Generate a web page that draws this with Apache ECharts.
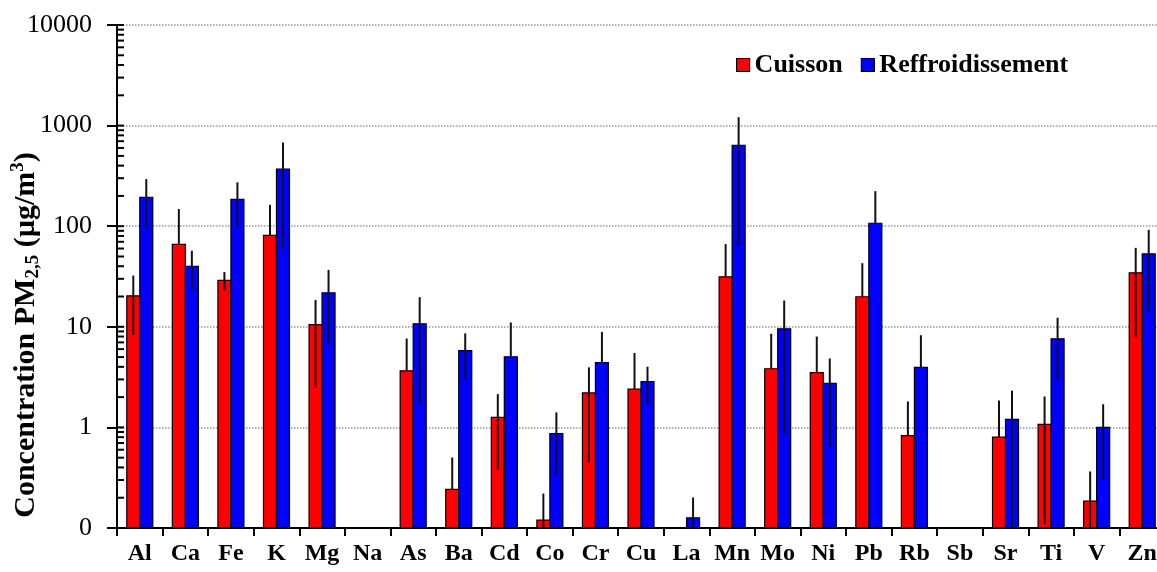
<!DOCTYPE html>
<html>
<head>
<meta charset="utf-8">
<script src="https://cdn.jsdelivr.net/npm/echarts@6/dist/echarts.min.js"></script>
<style>
  html, body { margin: 0; padding: 0; background: #fff; }
  #chart { width: 1157px; height: 572px; }
</style>
</head>
<body>
<div id="chart"></div>
<script>
const elements = ['Al', 'Ca', 'Fe', 'K', 'Mg', 'Na', 'As', 'Ba', 'Cd', 'Co', 'Cr', 'Cu', 'La', 'Mn', 'Mo', 'Ni', 'Pb', 'Rb', 'Sb', 'Sr', 'Ti', 'V', 'Zn'];
const cuisson = [20.3, 66, 29, 81, 10.5, null, 3.65, 0.242, 1.26, 0.12, 2.2, 2.4, null, 31.4, 3.83, 3.5, 19.9, 0.83, null, 0.8, 1.07, 0.185, 34.4];
const cuissonErr = [12, 82, 6, 82, 8, null, 4, 0.26, 0.88, 0.1, 1.75, 3.1, null, 35, 4.7, 4.5, 23, 0.98, null, 1.05, 0.96, 0.18, 26.5];
const refroid = [194, 40, 185, 369, 21.8, null, 10.7, 5.8, 5.03, 0.87, 4.4, 2.86, 0.126, 638, 9.55, 2.74, 107, 3.95, null, 1.2, 7.6, 1.0, 53];
const refroidErr = [100, 17, 88, 310, 15, null, 9, 2.8, 6, 0.54, 4.5, 1.15, 0.075, 575, 8.7, 2.1, 116, 4.3, null, 1.12, 4.7, 0.7, 39];
const yTickValues = [0.1, 1, 10, 100, 1000, 10000];

const serif = '"Liberation Serif", "Times New Roman", serif';
const barW = 13;

// decade ticks plus the 2..9 minor ticks drawn inside the axis
const insideTicks = [];
yTickValues.forEach((d, k) => {
  const steps = k < yTickValues.length - 1 ? 9 : 1;
  for (let m = 1; m <= steps; m++) insideTicks.push([0, +(d * m).toPrecision(3)]);
});

function rows(vals, errs) {
  return vals.map((v, i) => (v == null ? [i, null, null] : [i, v, errs[i]]));
}

// bars drawn from the bottom of the log axis (ECharts bars would start at 1)
function barRender(offset, color) {
  return function (params, api) {
    const v = api.value(1);
    if (v == null || isNaN(v)) return null;
    const p = api.coord([api.value(0), v]);
    const cs = params.coordSys;
    const bottom = cs.y + cs.height;
    const x = p[0] + offset - barW / 2;
    return {
      type: 'rect',
      shape: { x: x, y: p[1], width: barW, height: bottom - p[1] },
      style: { fill: color, stroke: '#000', lineWidth: 1.2 }
    };
  };
}

function errRender(offset) {
  return function (params, api) {
    const v = api.value(1);
    const e = api.value(2);
    if (v == null || isNaN(v) || isNaN(e)) return null;
    const i = api.value(0);
    const hi = api.coord([i, v + e]);
    const lo = api.coord([i, v - e > 0 ? v - e : v]);
    const x = hi[0] + offset;
    return {
      type: 'line',
      shape: { x1: x, y1: hi[1], x2: x, y2: lo[1] },
      style: { stroke: '#111', lineWidth: 2 }
    };
  };
}

const chart = echarts.init(document.getElementById('chart'));
chart.setOption({
  animation: false,
  backgroundColor: '#fff',
  grid: { left: 117, right: -8, top: 25, bottom: 44, outerBoundsMode: 'none' },
  legend: {
    data: ['Cuisson', 'Reffroidissement'],
    left: 731, top: 47,
    icon: 'rect', itemWidth: 13, itemHeight: 13, itemGap: 18,
    itemStyle: { borderColor: '#000', borderWidth: 1.2 },
    textStyle: { fontFamily: serif, fontWeight: 'bold', fontSize: 26, color: '#000' }
  },
  graphic: [{
    type: 'text',
    x: 26, y: 335,
    rotation: Math.PI / 2,
    style: {
      text: '{a|Concentration PM}{s|2,5}{a| (µg/m}{p|3}{a|)}',
      align: 'center', verticalAlign: 'middle',
      rich: {
        a: { fontFamily: serif, fontWeight: 'bold', fontSize: 30, fill: '#000', lineHeight: 34, verticalAlign: 'middle' },
        s: { fontFamily: serif, fontWeight: 'bold', fontSize: 19, fill: '#000', lineHeight: 34, verticalAlign: 'bottom' },
        p: { fontFamily: serif, fontWeight: 'bold', fontSize: 19, fill: '#000', lineHeight: 34, verticalAlign: 'top' }
      }
    }
  }],
  xAxis: {
    type: 'category',
    data: elements,
    boundaryGap: true,
    axisLine: { lineStyle: { color: '#000', width: 2 } },
    axisTick: { show: true, length: 8, interval: 0, lineStyle: { color: '#000', width: 2 } },
    axisLabel: { interval: 0, margin: 14, fontFamily: serif, fontWeight: 'bold', fontSize: 24, color: '#000' },
    splitLine: { show: false }
  },
  yAxis: {
    type: 'log',
    logBase: 10,
    min: 0.1,
    max: 10000,
    axisLine: { show: true, lineStyle: { color: '#000', width: 2 } },
    axisTick: { show: true, length: 10, lineStyle: { color: '#000', width: 2 } },
    axisLabel: {
      margin: 25, fontFamily: serif, fontSize: 26, color: '#000',
      formatter: v => (v < 1 ? '0' : String(Math.round(v)))
    },
    splitLine: { show: true, lineStyle: { color: '#999', type: 'dotted', width: 1.5 } }
  },
  series: [
    {
      name: 'Cuisson', type: 'custom', data: rows(cuisson, cuissonErr),
      itemStyle: { color: '#ff0000', borderColor: '#000' },
      renderItem: barRender(-barW / 2, '#ff0000'), clip: true, z: 3
    },
    {
      name: 'Reffroidissement', type: 'custom', data: rows(refroid, refroidErr),
      itemStyle: { color: '#0000ff', borderColor: '#000' },
      renderItem: barRender(barW / 2, '#0000ff'), clip: true, z: 3
    },
    {
      name: 'errCuisson', type: 'custom', data: rows(cuisson, cuissonErr),
      renderItem: errRender(-barW / 2), clip: true, z: 5, silent: true
    },
    {
      name: 'errReffroid', type: 'custom', data: rows(refroid, refroidErr),
      renderItem: errRender(barW / 2), clip: true, z: 5, silent: true
    },
    {
      name: 'yTicks', type: 'custom', data: insideTicks, z: 6, silent: true,
      renderItem: (params, api) => {
        const x0 = params.coordSys.x;
        const y = api.coord([0, api.value(1)])[1];
        return {
          type: 'line',
          shape: { x1: x0, y1: y, x2: x0 + 7, y2: y },
          style: { stroke: '#000', lineWidth: 2 }
        };
      }
    }
  ]
});
</script>
</body>
</html>
